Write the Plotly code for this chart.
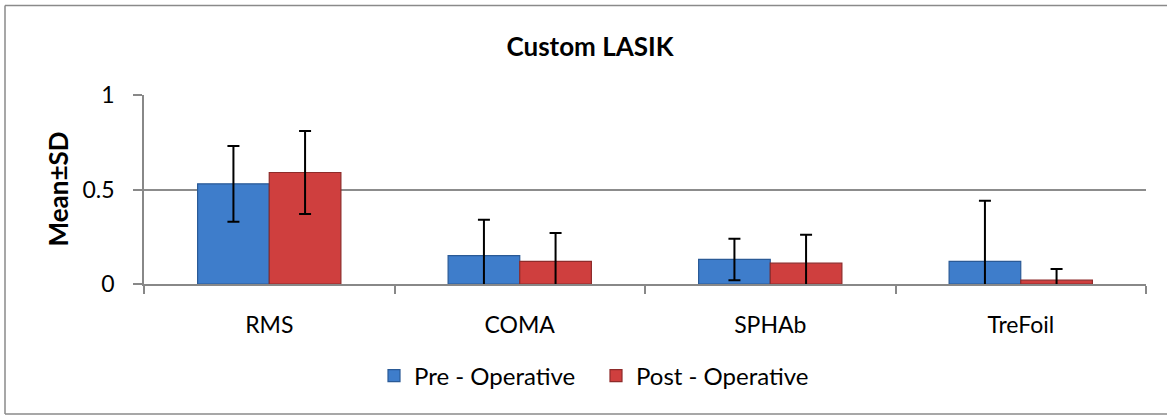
import plotly.graph_objects as go

categories = ["RMS", "COMA", "SPHAb", "TreFoil"]
pre_mean = [0.53, 0.15, 0.13, 0.12]
pre_sd = [0.20, 0.19, 0.11, 0.32]
post_mean = [0.59, 0.12, 0.11, 0.02]
post_sd = [0.22, 0.15, 0.15, 0.06]
y_ticks = [0, 0.5, 1]
y_ticklabels = ["0", "0.5", "1"]

FONT = "Lato, Carlito, Calibri, sans-serif"
W, H = 1167, 416
L, R, T, B = 144, 21, 95, 132
pw, ph = W - L - R, H - T - B

def px_to_paper_x(px):
    return (px - L) / pw

def px_to_paper_y(py):
    return (H - B - py) / ph

fig = go.Figure()
fig.add_trace(go.Bar(
    name="Pre - Operative", x=categories, y=pre_mean,
    marker=dict(color="#3E7DCB", line=dict(color="#2A5A96", width=1.2)),
    error_y=dict(type="data", array=pre_sd, visible=True, color="black", thickness=2, width=6),
))
fig.add_trace(go.Bar(
    name="Post - Operative", x=categories, y=post_mean,
    marker=dict(color="#CF3F3E", line=dict(color="#8E2B2A", width=1.2)),
    error_y=dict(type="data", array=post_sd, visible=True, color="black", thickness=2, width=6),
))

fig.update_layout(
    width=W, height=H,
    margin=dict(l=L, r=R, t=T, b=B, autoexpand=False),
    paper_bgcolor="white", plot_bgcolor="white",
    barmode="group", bargap=0.428, bargroupgap=0,
    font=dict(family=FONT, color="black"),
    title=dict(text="<b>Custom LASIK</b>", x=590 / W, xref="container", xanchor="center",
               y=1 - 47 / H, yref="container", yanchor="middle",
               font=dict(size=26, family=FONT, color="black")),
    showlegend=True,
    legend=dict(orientation="h", x=px_to_paper_x(374), xanchor="left",
                y=px_to_paper_y(376), yanchor="middle",
                font=dict(size=24, family=FONT), itemwidth=30, traceorder="normal",
                entrywidth=177, entrywidthmode="pixels",
                bgcolor="rgba(0,0,0,0)"),
)

fig.update_xaxes(
    showline=True, linecolor="#888888", linewidth=1.5,
    ticks="outside", tickson="boundaries", ticklen=8, tickcolor="#888888", tickwidth=1.5,
    tickfont=dict(size=23, family=FONT), ticklabelstandoff=20,
    showgrid=False, zeroline=False,
)
fig.update_yaxes(
    range=[0, 1], tickvals=y_ticks, ticktext=y_ticklabels,
    showline=True, linecolor="#888888", linewidth=1.5,
    ticks="outside", ticklen=9, tickcolor="#888888", tickwidth=1.5,
    tickfont=dict(size=23, family=FONT), ticklabelstandoff=14,
    showgrid=True, gridcolor="#8C8C8C", gridwidth=1.5, zeroline=False,
)

fig.add_annotation(
    text="<b>Mean±SD</b>", xref="paper", yref="paper",
    x=px_to_paper_x(57), y=0.5, xanchor="center", yanchor="middle",
    textangle=-90, showarrow=False, font=dict(size=26, family=FONT, color="black"),
)

border = dict(color="#8A8A8A", width=1.5)
bx0, bx1 = px_to_paper_x(5), px_to_paper_x(1200)
by0, by1 = px_to_paper_y(414), px_to_paper_y(5.5)
fig.add_shape(type="line", xref="paper", yref="paper", x0=bx0, x1=bx0, y0=by0, y1=by1, line=border, layer="below")
fig.add_shape(type="line", xref="paper", yref="paper", x0=bx0, x1=bx1, y0=by1, y1=by1, line=border, layer="below")
fig.add_shape(type="line", xref="paper", yref="paper", x0=bx0, x1=bx1, y0=by0, y1=by0, line=border, layer="below")

fig.write_html("out.html", config={"displayModeBar": False},
               post_script="document.body.style.margin='0';document.body.style.overflow='hidden';")
